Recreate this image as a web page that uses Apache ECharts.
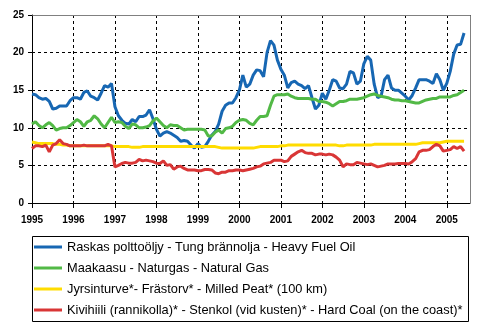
<!DOCTYPE html>
<html><head><meta charset="utf-8">
<script src="https://cdn.jsdelivr.net/npm/echarts@6/dist/echarts.min.js"></script>
<style>html,body{margin:0;padding:0;background:#fff;}#c{width:495px;height:327px;}</style>
</head><body><div id="c"></div>
<script>
// Monthly data, Jan 1995 .. Jun 2005
var startYear = 1995;
var yearTicks = [1995,1996,1997,1998,1999,2000,2001,2002,2003,2004,2005];
var seriesNames = [
  "Raskas polttoöljy - Tung brännolja - Heavy Fuel Oil",
  "Maakaasu - Naturgas - Natural Gas",
  "Jyrsinturve*- Frästorv* - Milled Peat* (100 km)",
  "Kivihiili (rannikolla)* - Stenkol (vid kusten)* - Hard Coal (on the coast)*"
];
var heavyFuelOil = [
  14.5,14.4,14.0,13.8,13.9,13.5,12.5,12.6,12.9,12.9,12.9,13.6,
  14.0,14.0,13.8,14.7,14.9,14.2,14.0,13.7,14.6,15.6,15.4,15.9,
  12.8,11.6,11.0,10.6,10.5,11.1,10.8,11.5,11.5,11.7,12.4,11.2,
  9.8,8.9,9.3,9.5,9.3,9.0,8.7,8.2,8.3,8.2,7.7,7.3,
  7.9,7.4,7.5,8.2,9.0,9.5,10.5,12.2,13.0,13.3,13.3,14.0,
  15.0,17.0,15.4,15.8,17.0,17.7,17.6,16.8,20.0,21.6,21.0,19.0,
  17.8,17.0,15.3,16.0,16.2,15.8,15.6,15.2,15.6,14.0,12.5,13.0,
  14.6,13.8,15.0,16.4,16.2,15.3,15.2,15.8,17.5,17.3,15.8,16.2,
  18.5,19.5,19.0,15.8,14.0,14.2,16.4,17.0,15.3,15.0,15.0,14.6,
  14.2,13.7,14.3,15.3,16.4,16.4,16.4,16.2,15.9,17.2,16.4,15.0,
  15.9,17.5,19.8,21.0,21.1,22.6
];
var naturalGas = [
  10.5,10.8,10.3,10.0,10.4,10.7,10.3,9.7,9.9,10.0,10.0,10.3,
  10.7,11.1,10.8,10.2,10.8,11.0,11.6,11.2,10.5,10.0,10.7,11.4,
  10.7,10.8,10.7,10.2,9.9,10.5,10.4,10.0,10.0,10.1,10.3,10.9,
  11.3,10.8,10.3,10.0,10.4,10.3,10.3,10.0,9.7,9.8,9.8,9.8,
  9.8,9.8,9.7,8.9,8.9,9.4,9.7,9.3,9.9,10.0,10.2,10.7,
  11.0,11.1,11.0,10.6,10.4,11.0,11.5,11.5,11.6,13.0,14.2,14.4,
  14.4,14.4,14.5,14.2,14.0,13.9,13.9,13.9,13.9,13.8,13.8,13.5,
  13.5,13.4,13.2,12.9,13.2,13.5,13.5,13.6,13.8,13.8,13.8,13.9,
  14.0,14.2,14.4,14.5,14.3,14.2,14.1,14.0,13.8,13.7,13.7,13.6,
  13.6,13.5,13.4,13.3,13.3,13.5,13.7,13.8,13.9,13.9,14.1,14.1,
  14.1,14.1,14.3,14.4,14.7,15.0
];
var milledPeat = [
  8.1,8.0,7.9,7.9,7.9,7.9,7.9,7.8,7.8,7.7,7.7,7.6,
  7.6,7.6,7.6,7.6,7.6,7.6,7.6,7.6,7.6,7.6,7.6,7.6,
  7.5,7.5,7.5,7.5,7.5,7.4,7.4,7.4,7.5,7.5,7.5,7.5,
  7.5,7.5,7.5,7.5,7.5,7.5,7.5,7.5,7.5,7.5,7.5,7.5,
  7.5,7.5,7.5,7.5,7.5,7.5,7.4,7.3,7.3,7.3,7.3,7.3,
  7.3,7.3,7.3,7.3,7.3,7.4,7.5,7.5,7.5,7.5,7.5,7.5,
  7.6,7.6,7.7,7.7,7.7,7.7,7.7,7.7,7.7,7.7,7.7,7.7,
  7.7,7.7,7.7,7.7,7.7,7.6,7.6,7.7,7.7,7.7,7.7,7.7,
  7.7,7.7,7.7,7.8,7.8,7.8,7.8,7.8,7.8,7.8,7.8,7.8,
  7.8,7.8,7.8,7.8,7.9,8.0,8.0,8.0,8.0,8.0,8.0,8.1,
  8.2,8.2,8.2,8.2,8.2,8.2
];
var hardCoal = [
  7.25,7.6,7.6,7.5,7.7,6.8,7.7,7.9,8.4,7.9,7.8,7.6,
  7.6,7.6,7.6,7.7,7.6,7.6,7.6,7.6,7.6,7.6,7.8,7.6,
  4.8,5.0,5.25,5.4,5.3,5.3,5.4,5.8,5.6,5.7,5.6,5.5,
  5.3,5.25,5.6,5.0,5.1,4.5,4.8,4.9,4.6,4.4,4.4,4.4,
  4.3,4.3,4.45,4.45,4.4,4.0,3.9,4.1,4.1,4.3,4.3,4.4,
  4.4,4.3,4.4,4.5,4.6,4.8,4.9,5.2,5.3,5.4,5.7,5.7,
  5.7,5.5,5.6,6.2,6.5,6.8,7.0,6.7,6.6,6.6,6.4,6.5,
  6.5,6.4,6.5,6.4,6.1,5.7,4.8,5.2,5.1,5.1,5.4,5.3,
  5.2,5.1,5.2,5.0,4.8,4.9,5.0,5.2,5.2,5.2,5.25,5.25,
  5.25,5.2,5.5,5.9,6.8,7.0,7.0,7.1,7.5,7.8,7.6,6.9,
  7.0,7.1,7.5,7.25,7.5,6.9
];
var colors = ['#1767b3','#52b946','#ffdc00','#d93636'];

function toPoints(arr){
  return arr.map(function(v,i){ return [startYear + i/12, v]; });
}
var allData = [heavyFuelOil, naturalGas, milledPeat, hardCoal];
var FONT = '"Liberation Sans", Arial, sans-serif';

var chart = echarts.init(document.getElementById('c'), null, {renderer:'canvas'});
var xMax = 2005.56;
var option = {
  animation: false,
  backgroundColor: '#fff',
  color: colors,
  grid: {left: 32, right: 25, top: 15, bottom: 124, containLabel: false},
  xAxis: {
    type: 'value', min: yearTicks[0], max: xMax, interval: 1,
    axisLine: {show: true, lineStyle: {color: '#000', width: 1}},
    axisTick: {show: true, length: 5, lineStyle: {color: '#000'}},
    axisLabel: {
      showMaxLabel: false, margin: 12,
      color: '#000', fontSize: 10, fontWeight: 'bold', fontFamily: FONT,
      formatter: function(v){ return yearTicks.indexOf(Math.round(v*1000)/1000) >= 0 ? String(Math.round(v)) : ''; }
    },
    splitLine: {show: true, lineStyle: {color: '#000', type: [3,3], width: 1}}
  },
  yAxis: {
    type: 'value', min: 0, max: 25, interval: 5,
    axisLine: {show: true, lineStyle: {color: '#000', width: 1}},
    axisTick: {show: true, length: 4, lineStyle: {color: '#000'}},
    axisLabel: {margin: 8, color: '#000', fontSize: 10, fontWeight: 'bold', fontFamily: FONT},
    splitLine: {show: true, lineStyle: {color: '#000', type: [3,3], width: 1}}
  },
  legend: {
    orient: 'vertical', left: 34, top: 240, padding: 0,
    itemWidth: 28, itemHeight: 3, itemGap: 7, icon: 'rect',
    textStyle: {color: '#000', fontSize: 12.8, fontFamily: FONT, lineHeight: 14},
    data: seriesNames
  },
  series: seriesNames.map(function(n, k){
    return {
      name: n, type: 'line', data: toPoints(allData[k]),
      showSymbol: false, symbol: 'none',
      lineStyle: {width: 3, color: colors[k]},
      itemStyle: {color: colors[k]}
    };
  })
};
chart.setOption(option);

// plot frame (top and right) and legend box
var p0 = chart.convertToPixel({gridIndex:0}, [yearTicks[0], 25]);
var p1 = chart.convertToPixel({gridIndex:0}, [xMax, 0]);
chart.setOption({
  graphic: [
    {type:'polyline', z: 100, shape:{points:[[Math.round(p0[0])+0.5, Math.round(p0[1])+0.5],[Math.round(p1[0])+0.5, Math.round(p0[1])+0.5],[Math.round(p1[0])+0.5, Math.round(p1[1])+0.5]]}, style:{stroke:'#808080', fill:null, lineWidth:1}},
    {type:'rect', z: 100, shape:{x:32.5, y:236.5, width:436, height:85}, style:{stroke:'#000', fill:null, lineWidth:1}}
  ]
});
</script>
</body></html>
